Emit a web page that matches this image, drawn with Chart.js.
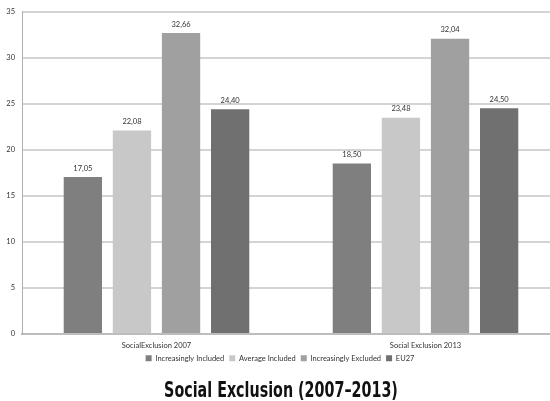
<!DOCTYPE html>
<html>
<head>
<meta charset="utf-8">
<script src="https://cdn.jsdelivr.net/npm/chart.js@4/dist/chart.umd.min.js"></script>
<style>
  html, body { margin: 0; padding: 0; background: #fff; overflow: hidden; }
  #wrap { position: relative; width: 560px; height: 401px; }
</style>
</head>
<body>
<div id="wrap"><canvas id="c" width="560" height="401"></canvas></div>
<script>
// Categories and series
const categories = ["SocialExclusion 2007", "Social Exclusion 2013"];
const seriesNames = ["Increasingly Included", "Average Included", "Increasingly Excluded", "EU27"];
const increasinglyIncluded = [17.05, 18.50];
const averageIncluded = [22.08, 23.48];
const increasinglyExcluded = [32.66, 32.04];
const eu27 = [24.40, 24.50];
const yTicks = [0, 5, 10, 15, 20, 25, 30, 35];
const chartTitle = "Social Exclusion (2007\u20132013)";

const colors = ["#7f7f7f", "#c8c8c8", "#a0a0a0", "#707070"];
const seriesValues = [increasinglyIncluded, averageIncluded, increasinglyExcluded, eu27];
const smallFont = "Lato, 'Liberation Sans', sans-serif";

// Writes each bar's value above it with a decimal comma
const valueLabels = {
  id: "valueLabels",
  afterDatasetsDraw(chart) {
    const ctx = chart.ctx;
    ctx.save();
    ctx.font = "7.5px " + smallFont;
    ctx.fillStyle = "#333";
    ctx.textAlign = "center";
    ctx.textBaseline = "bottom";
    chart.data.datasets.forEach((ds, i) => {
      chart.getDatasetMeta(i).data.forEach((bar, j) => {
        ctx.fillText(ds.data[j].toFixed(2).replace(".", ","), bar.x, bar.y - 5);
      });
    });
    ctx.restore();
  }
};

// Condensed bold caption under the legend
const condensedTitle = {
  id: "condensedTitle",
  afterDraw(chart) {
    const ctx = chart.ctx;
    ctx.save();
    ctx.translate(281, 397);
    ctx.scale(0.65, 1);
    ctx.font = "bold 22px 'DejaVu Sans', sans-serif";
    ctx.fillStyle = "#111";
    ctx.textAlign = "center";
    ctx.textBaseline = "alphabetic";
    ctx.fillText(chartTitle, 0, 0);
    ctx.restore();
  }
};

new Chart(document.getElementById("c"), {
  type: "bar",
  data: {
    labels: categories,
    datasets: seriesNames.map((name, i) => ({
      label: name,
      data: seriesValues[i],
      backgroundColor: colors[i],
      borderWidth: 0,
      categoryPercentage: 0.73,
      barPercentage: 0.78
    }))
  },
  options: {
    responsive: false,
    animation: false,
    layout: { padding: { top: 8, right: 0, left: 0, bottom: 29 } },
    scales: {
      x: {
        grid: { display: false },
        border: { color: "#bdbdbd", width: 2 },
        ticks: { color: "#333", font: { size: 7.5, family: smallFont, lineHeight: 1 }, padding: 0 }
      },
      y: {
        min: 0,
        max: 35,
        afterBuildTicks(axis) { axis.ticks = yTicks.map(v => ({ value: v })); },
        afterFit(axis) { axis.width = 22; },
        grid: { color: "#d4d4d4", lineWidth: 2, drawTicks: false },
        border: { color: "#b0b0b0", width: 1 },
        ticks: { color: "#333", font: { size: 7.5, family: smallFont }, padding: 7 }
      }
    },
    plugins: {
      legend: {
        position: "bottom",
        labels: {
          boxWidth: 6,
          boxHeight: 6,
          padding: 5,
          color: "#333",
          font: { size: 7.5, family: smallFont }
        }
      },
      title: { display: false },
      tooltip: { enabled: false }
    }
  },
  plugins: [valueLabels, condensedTitle]
});
</script>
</body>
</html>
